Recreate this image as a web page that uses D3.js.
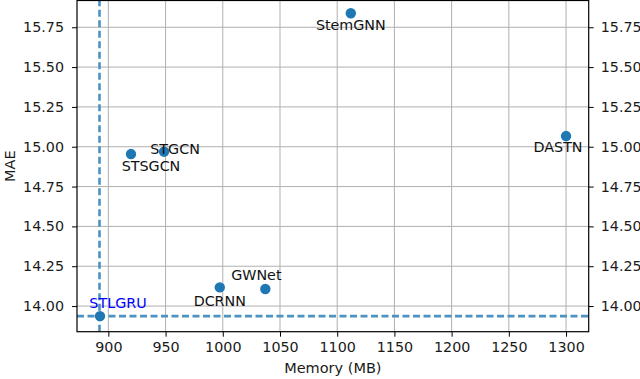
<!DOCTYPE html>
<html>
<head>
<meta charset="utf-8">
<script src="https://cdn.jsdelivr.net/npm/d3@7"></script>
<style>
  body { margin: 0; background: #fff; }
  svg { display: block; font-family: "DejaVu Sans", sans-serif; }
</style>
</head>
<body>
<script>
// data
const models = ['STLGRU', 'STSGCN', 'STGCN', 'DCRNN', 'GWNet', 'DASTN', 'StemGNN'];
const memory = [892.7, 919.8, 948.7, 997.4, 1037.2, 1300, 1111.9];
const mae = [13.937, 14.954, 14.969, 14.117, 14.107, 15.067, 15.838];
const xTicks = [900, 950, 1000, 1050, 1100, 1150, 1200, 1250, 1300];
const yTicks = [14.00, 14.25, 14.50, 14.75, 15.00, 15.25, 15.50, 15.75];

// label placement (pixels from point)
const labelShift = {
  STLGRU: [18, -13], STSGCN: [20, 12], STGCN: [11, -3], DCRNN: [0, 13],
  GWNet: [-9, -14], DASTN: [-8, 11], StemGNN: [0, 12]
};

const width = 640, height = 379;
const margin = { top: 0.5, right: 51.3, bottom: 47.3, left: 77 };

const svg = d3.select('body').append('svg')
  .attr('width', width)
  .attr('height', height);

const x = d3.scaleLinear()
  .domain([872.6, 1319.8])
  .range([margin.left, width - margin.right]);
const y = d3.scaleLinear()
  .domain([13.839, 15.918])
  .range([height - margin.bottom, margin.top]);

// grid
const grid = svg.append('g')
  .attr('stroke', '#b0b0b0')
  .attr('stroke-width', 1);
grid.selectAll('.gx').data(xTicks).enter().append('line')
  .attr('x1', d => x(d)).attr('x2', d => x(d))
  .attr('y1', y.range()[0]).attr('y2', y.range()[1]);
grid.selectAll('.gy').data(yTicks).enter().append('line')
  .attr('y1', d => y(d)).attr('y2', d => y(d))
  .attr('x1', x.range()[0]).attr('x2', x.range()[1]);

// reference lines through STLGRU
const best = models.indexOf('STLGRU');
const ref = svg.append('g')
  .attr('stroke', '#4c92c3')
  .attr('stroke-width', 2.6)
  .attr('stroke-dasharray', '7,3.5');
ref.append('line')
  .attr('x1', x(memory[best]) - 0.5).attr('x2', x(memory[best]) - 0.5)
  .attr('y1', y.range()[0]).attr('y2', y.range()[1]);
ref.append('line')
  .attr('x1', x.range()[0]).attr('x2', x.range()[1])
  .attr('y1', y(mae[best])).attr('y2', y(mae[best]));

// points
svg.append('g')
  .selectAll('circle')
  .data(models)
  .enter()
  .append('circle')
  .attr('cx', (d, i) => x(memory[i]))
  .attr('cy', (d, i) => y(mae[i]))
  .attr('r', 5.2)
  .attr('fill', '#1f77b4');

// labels
svg.append('g')
  .selectAll('text')
  .data(models)
  .enter()
  .append('text')
  .attr('x', (d, i) => x(memory[i]) + labelShift[d][0])
  .attr('y', (d, i) => y(mae[i]) + labelShift[d][1])
  .attr('dy', '0.36em')
  .attr('text-anchor', 'middle')
  .attr('font-size', 14.3)
  .attr('fill', d => d === 'STLGRU' ? 'blue' : '#111')
  .text(d => d);

// axes
const styleAxis = g => {
  g.select('.domain').remove();
  g.selectAll('.tick line').attr('stroke', '#000').attr('stroke-width', 1);
  g.selectAll('.tick text').attr('font-size', 14.3).attr('fill', '#1a1a1a')
    .attr('font-family', '"DejaVu Sans", sans-serif');
};

svg.append('g')
  .attr('transform', `translate(0,${y.range()[0]})`)
  .call(d3.axisBottom(x).tickValues(xTicks).tickSize(5).tickPadding(5).tickFormat(d3.format('d')))
  .call(styleAxis);

svg.append('g')
  .attr('transform', `translate(${x.range()[0]},0)`)
  .call(d3.axisLeft(y).tickValues(yTicks).tickSize(5).tickPadding(8).tickFormat(d3.format('.2f')))
  .call(styleAxis);

svg.append('g')
  .attr('transform', `translate(${x.range()[1]},0)`)
  .call(d3.axisRight(y).tickValues(yTicks).tickSize(5).tickPadding(7).tickFormat(d3.format('.2f')))
  .call(styleAxis);

// frame
svg.append('rect')
  .attr('x', x.range()[0])
  .attr('y', y.range()[1])
  .attr('width', x.range()[1] - x.range()[0])
  .attr('height', y.range()[0] - y.range()[1])
  .attr('fill', 'none')
  .attr('stroke', '#000')
  .attr('stroke-width', 1.2);

// axis titles
svg.append('text')
  .attr('x', (x.range()[0] + x.range()[1]) / 2)
  .attr('y', 368)
  .attr('dy', '0.36em')
  .attr('text-anchor', 'middle')
  .attr('font-size', 14.5)
  .attr('fill', '#1a1a1a')
  .text('Memory (MB)');

svg.append('text')
  .attr('transform', `translate(10,${(y.range()[0] + y.range()[1]) / 2}) rotate(-90)`)
  .attr('dy', '0.36em')
  .attr('text-anchor', 'middle')
  .attr('font-size', 14.5)
  .attr('fill', '#1a1a1a')
  .text('MAE');
</script>
</body>
</html>
